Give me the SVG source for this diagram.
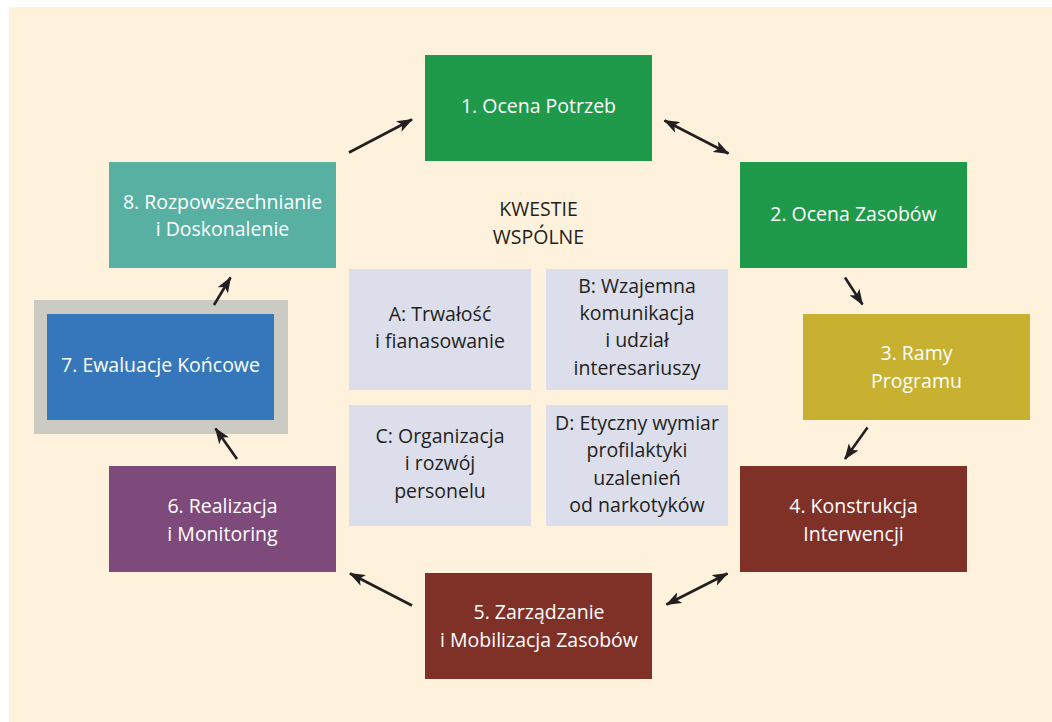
<svg xmlns="http://www.w3.org/2000/svg" width="1052" height="722" viewBox="0 0 1052 722">
<style>
.t{font-family:"Open Sans","Noto Sans","Liberation Sans",sans-serif;font-size:19.5px;text-anchor:middle}
.w{fill:#ffffff}
.d{fill:#231f20}
.sq{fill:#dcdeeb}
.c{stroke:#231f20;stroke-width:2.6;fill:none}
</style>
<defs>
<marker id="ah" viewBox="0 0 16 12" refX="15" refY="6" markerWidth="16" markerHeight="12" markerUnits="userSpaceOnUse" orient="auto-start-reverse">
<path d="M0,0 L16,6 L0,12 L4,6 z" fill="#231f20"/>
</marker>
</defs>
<rect x="9" y="7" width="1043" height="715" fill="#fef2dc"/>

<g id="node1"><rect x="425" y="55" width="227" height="106" fill="#1f9a4b"/><text class="t w" x="538.5" y="113">1. Ocena Potrzeb</text></g>
<g id="node2"><rect x="740" y="162" width="227" height="106" fill="#1f9a4b"/><text class="t w" x="853.5" y="221">2. Ocena Zasobów</text></g>
<g id="node3"><rect x="803" y="314" width="227" height="106" fill="#c8b030"/><text class="t w" x="916.5" y="360">3. Ramy</text><text class="t w" x="916.5" y="387.5">Programu</text></g>
<g id="node4"><rect x="740" y="466" width="227" height="106" fill="#7f3027"/><text class="t w" x="853.5" y="513">4. Konstrukcja</text><text class="t w" x="853.5" y="541">Interwencji</text></g>
<g id="node5"><rect x="425" y="573" width="227" height="106" fill="#7f3027"/><text class="t w" x="539" y="618.5">5. Zarządzanie</text><text class="t w" x="539" y="646.5">i Mobilizacja Zasobów</text></g>
<g id="node6"><rect x="109" y="466" width="227" height="106" fill="#7e4a7b"/><text class="t w" x="222.5" y="513">6. Realizacja</text><text class="t w" x="222.5" y="541">i Monitoring</text></g>
<g id="node7"><rect x="34" y="300" width="254" height="134" fill="#cccbc3"/><rect x="47" y="314" width="227" height="106" fill="#3677bb"/><text class="t w" x="160.5" y="372">7. Ewaluacje Końcowe</text></g>
<g id="node8"><rect x="109" y="162" width="227" height="106" fill="#58b0a2"/><text class="t w" x="222.5" y="208.5">8. Rozpowszechnianie</text><text class="t w" x="222.5" y="236">i Doskonalenie</text></g>

<g id="center-title"><text class="t d" x="538.5" y="216">KWESTIE</text><text class="t d" x="538.5" y="244">WSPÓLNE</text></g>
<g id="nodeA"><rect class="sq" x="349" y="269" width="182" height="121"/><text class="t d" x="440" y="321">A: Trwałość</text><text class="t d" x="440" y="347.5">i fianasowanie</text></g>
<g id="nodeB"><rect class="sq" x="546" y="269" width="182" height="121"/><text class="t d" x="637" y="292.5">B: Wzajemna</text><text class="t d" x="637" y="320">komunikacja</text><text class="t d" x="637" y="347">i udział</text><text class="t d" x="637" y="375">interesariuszy</text></g>
<g id="nodeC"><rect class="sq" x="349" y="405" width="182" height="121"/><text class="t d" x="440" y="442.5">C: Organizacja</text><text class="t d" x="440" y="470">i rozwój</text><text class="t d" x="440" y="497.5">personelu</text></g>
<g id="nodeD"><rect class="sq" x="546" y="405" width="182" height="121"/><text class="t d" x="637" y="429.5">D: Etyczny wymiar</text><text class="t d" x="637" y="457">profilaktyki</text><text class="t d" x="637" y="485">uzalenień</text><text class="t d" x="637" y="512">od narkotyków</text></g>

<g id="connectors">
<line class="c" x1="349" y1="152.5" x2="412" y2="119.5" marker-end="url(#ah)"/>
<line class="c" x1="664.5" y1="120.5" x2="728.5" y2="153.5" marker-start="url(#ah)" marker-end="url(#ah)"/>
<line class="c" x1="845" y1="277.5" x2="862.5" y2="304.5" marker-end="url(#ah)"/>
<line class="c" x1="867.5" y1="427.5" x2="845" y2="459" marker-end="url(#ah)"/>
<line class="c" x1="666.5" y1="604.5" x2="727.5" y2="573.5" marker-start="url(#ah)" marker-end="url(#ah)"/>
<line class="c" x1="412" y1="605.5" x2="350" y2="573.5" marker-end="url(#ah)"/>
<line class="c" x1="237" y1="459" x2="215.5" y2="428.5" marker-end="url(#ah)"/>
<line class="c" x1="214" y1="305" x2="230.5" y2="277.5" marker-end="url(#ah)"/>
</g>
</svg>
